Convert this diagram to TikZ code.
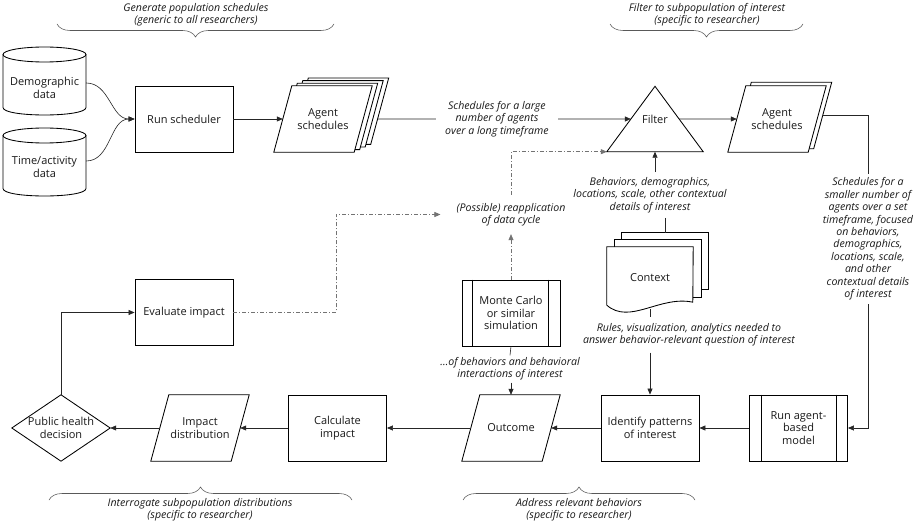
\documentclass[tikz,border=0pt]{standalone}
\usepackage{fontspec}
\setmainfont{Open Sans}
\usetikzlibrary{arrows.meta,calc,decorations.pathreplacing,backgrounds}

\newcommand\paraback[3]{\draw[shapeline,fill=white] ([shift={({-9+#2},{#3})}]#1.south west) -- ([shift={({9+#2},{#3})}]#1.north west) -- ([shift={({9+#2},{#3})}]#1.north east) -- ([shift={({-9+#2},{#3})}]#1.south east) -- cycle;}
\newcommand\cylshape[4]{%
 \draw[shapeline] (#1,{#3+7.5}) -- (#1,{#4-7.5}) .. controls (#1,{#4+2.5}) and (#2,{#4+2.5}) .. (#2,{#4-7.5}) -- (#2,{#3+7.5});
 \draw[shapeline] ({(#1+#2)/2},{#3+7.5}) ellipse [x radius={(#2-#1)/2}, y radius=7.5];}

\begin{document}
\begin{tikzpicture}[x=1pt,y=-1pt,
  every node/.style={text=black!90},
  txt/.style={font=\fontsize{11}{12.8}\selectfont, align=center},
  note/.style={font=\fontsize{10.6}{12.4}\selectfont\itshape, align=center, inner sep=0pt},
  shapeline/.style={draw=black, line width=0.85pt},
  box/.style={txt, shapeline, minimum width=98pt, minimum height=66pt, inner sep=2pt},
  ghost/.style={txt, inner sep=0pt},
  pnode/.style={txt, inner sep=0pt, minimum width=80pt, minimum height=66pt},
  link/.style={draw=black!85, line width=0.6pt},
  conn/.style={link, -{Triangle[length=6pt,width=5pt]}},
  dd/.style={draw=black!55, line width=0.6pt, dash pattern=on 4pt off 2pt on 1pt off 2pt, -{Triangle[length=6pt,width=5pt]}},
  bracestyle/.style={draw=black!65, line width=0.55pt, decorate, decoration={brace, amplitude=13pt}}
]
\begin{pgfonlayer}{background}
  \fill[white] (0,0) rectangle (921,526);
\end{pgfonlayer}
\useasboundingbox (0,0) rectangle (921,526);

% ---- braces and their captions
\node[note] (b1) at (196,15) {Generate population schedules\\(generic to all researchers)};
\draw[bracestyle] (334,24) -- (57,24);
\node[note] (b2) at (707,15) {Filter to subpopulation of interest\\(specific to researcher)};
\draw[bracestyle] (803,24) -- (610,24);
\node[note] (b3) at (200,510) {Interrogate subpopulation distributions\\(specific to researcher)};
\draw[bracestyle] (49,500) -- (352,500);
\node[note] (b4) at (579,510) {Address relevant behaviors\\(specific to researcher)};
\draw[bracestyle] (463,500) -- (695,500);

% ---- top row
\node[ghost, minimum width=83pt, minimum height=52pt] (demo) at (44.5,88) {Demographic\\data};
\node[ghost, minimum width=83pt, minimum height=52pt] (time) at (44.5,167) {Time/activity\\data};
\node[box] (run) at (184,119) {Run scheduler};
\node[pnode] (sched1) at (323,119) {Agent\\schedules};
\node[ghost, minimum width=96pt, minimum height=65pt] (filter) at (655,119) {Filter};
\coordinate (filterL) at ($(filter.north)!0.5!(filter.south west)$);
\coordinate (filterR) at ($(filter.north)!0.5!(filter.south east)$);
\node[pnode] (sched2) at (777,119) {Agent\\schedules};

% ---- middle
\node[note, inner ysep=5pt] (behav) at (650,195) {Behaviors, demographics,\\locations, scale, other contextual\\details of interest};
\node[note, inner xsep=16pt, inner ysep=8pt] (reapp) at (511,214.5) {(Possible) reapplication\\of data cycle};
\node[note, inner ysep=4pt] (smalltxt) at (868,239) {Schedules for a\\smaller number of\\agents over a set\\timeframe, focused\\on behaviors,\\demographics,\\locations, scale,\\and other\\contextual details\\of interest};
\node[ghost, minimum width=86pt, minimum height=56pt] (ctxb) at (665,261) {};
\node[ghost, minimum width=86pt, minimum height=62pt] (ctx) at (650,278) {Context};
\node[box] (evaluate) at (184,312.5) {Evaluate impact};
\node[box] (mc) at (511,313) {Monte Carlo\\or similar\\simulation};
\draw[shapeline] ([xshift=11pt]mc.north west) -- ([xshift=11pt]mc.south west);
\draw[shapeline] ([xshift=-12pt]mc.north east) -- ([xshift=-12pt]mc.south east);
\node[note, inner ysep=6pt] (rules) at (689,335) {Rules, visualization, analytics needed to\\answer behavior-relevant question of interest};
\node[note, inner ysep=2pt] (mctxt) at (510,369) {…of behaviors and behavioral\\interactions of interest};

% ---- bottom row
\node[ghost, minimum width=98pt, minimum height=66pt] (decision) at (61,428) {Public health\\decision};
\node[pnode] (impact) at (200,428) {Impact\\distribution};
\node[box] (calc) at (337.5,428) {Calculate\\impact};
\node[pnode] (outcome) at (511,428) {Outcome};
\node[box] (ident) at (650,428) {Identify patterns\\of interest};
\node[box] (abm) at (798.5,428) {Run agent-\\based\\model};
\draw[shapeline] ([xshift=12pt]abm.north west) -- ([xshift=12pt]abm.south west);
\draw[shapeline] ([xshift=-12pt]abm.north east) -- ([xshift=-12pt]abm.south east);

% ---- drawn outlines (behind the texts)
\begin{pgfonlayer}{background}
  \cylshape{3}{86}{47}{115}
  \cylshape{3}{86}{128}{196}
  \paraback{sched1}{16.5}{-7.8}
  \paraback{sched1}{11}{-5.2}
  \paraback{sched1}{5.5}{-2.6}
  \paraback{sched1}{0}{0}
  \paraback{sched2}{5.5}{-3.5}
  \paraback{sched2}{0}{0}
  \draw[shapeline, fill=white] (filter.north) -- (filter.south east) -- (filter.south west) -- cycle;
  \draw[shapeline, fill=white] (ctxb.north west) rectangle (ctxb.south east);
  \draw[shapeline, fill=white] ([shift={(8,-7)}]ctx.north west) rectangle ([shift={(8,-12)}]ctx.south east);
  \draw[shapeline, fill=white] (ctx.north west) -- (ctx.north east) -- ($(ctx.south west)+(86,-7)$)
     .. controls ($(ctx.south west)+(53,-14)$) and ($(ctx.south west)+(23,16)$) .. ($(ctx.south west)+(0,-4)$) -- cycle;
  \draw[shapeline, fill=white] (decision.north) -- (decision.east) -- (decision.south) -- (decision.west) -- cycle;
  \paraback{impact}{0}{0}
  \paraback{outcome}{0}{0}
\end{pgfonlayer}

% ---- connectors
\draw[conn] ([yshift=5pt]demo.east) to[out=0,in=180] (run.west);
\draw[conn] ([yshift=6pt]time.east) to[out=0,in=180] (run.west);
\draw[conn] (run.east) -- (sched1.west);
\draw[conn] ([xshift=15pt]sched1.east) -- node[note, fill=white, pos=0.47, inner xsep=9pt, inner ysep=2pt] (bigtxt) {Schedules for a large\\number of agents\\over a long timeframe} (filterL);
\draw[conn] (filterR) -- (sched2.west);
\draw[link] ([shift={(5.5,-4)}]sched2.east) -| (smalltxt.north);
\draw[conn] (smalltxt.south) |- (abm.east);
\draw[conn] (behav.north -| filter.south) -- (filter.south);
\draw[link] (behav.south -| ctxb.north) -- (ctxb.north);
\draw[link] (ctx.south) -- (ctx.south |- rules.north);
\draw[conn] (rules.south -| ident.north) -- (ident.north);
\draw[conn] (abm.west) -- (ident.east);
\draw[conn] (ident.west) -- (outcome.east);
\draw[conn] (outcome.west) -- (calc.east);
\draw[conn] (calc.west) -- (impact.east);
\draw[conn] (impact.west) -- (decision.east);
\draw[conn] (decision.north) |- (evaluate.west);
\draw[link] (mc.south) -- (mctxt.north);
\draw[conn] (mctxt.south -| outcome.north) -- (outcome.north);
\draw[dd] (evaluate.east) -- ++(103,0) |- (reapp.west);
\draw[dd] (mc.north) -- (reapp.south);
\draw[dd] (reapp.north) |- (filter.south west);
\end{tikzpicture}
\end{document}
